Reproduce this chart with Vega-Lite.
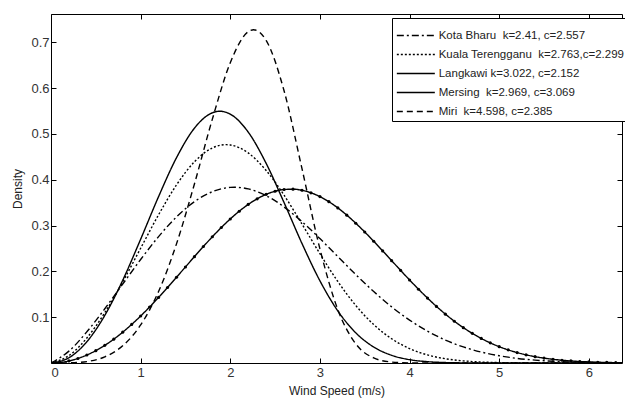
{
  "$schema": "https://vega.github.io/schema/vega-lite/v6.json",
  "width": 571,
  "height": 349,
  "autosize": {"type": "none"},
  "padding": {"left": 51, "top": 14, "right": 3, "bottom": 36},
  "background": "white",
  "config": {
    "view": {"stroke": "#000", "strokeWidth": 1},
    "font": "Liberation Sans",
    "axis": {
      "domain": false,
      "grid": false,
      "tickColor": "#000",
      "tickSize": -5,
      "labelFont": "Liberation Sans",
      "labelFontSize": 13,
      "labelColor": "#333",
      "titleFont": "Liberation Sans",
      "titleFontSize": 12,
      "titleFontWeight": "normal",
      "titleColor": "#222"
    },
    "legend": {
      "orient": "none",
      "legendX": 341,
      "legendY": 4,
      "padding": 4,
      "strokeColor": "#000",
      "fillColor": "#fff",
      "labelFont": "Liberation Sans",
      "labelFontSize": 11.5,
      "labelColor": "#222",
      "labelLimit": 300,
      "symbolType": "M-1,0H2",
      "symbolSize": 642,
      "symbolStrokeColor": "#000",
      "labelOffset": 15.7,
      "rowPadding": 0
    }
  },
  "data": {
    "values": [
      {"s": "Kota Bharu\u00a0 k=2.41, c=2.557", "x": 0, "y": 0},
      {"s": "Kota Bharu\u00a0 k=2.41, c=2.557", "x": 0.2, "y": 0.0259},
      {"s": "Kota Bharu\u00a0 k=2.41, c=2.557", "x": 0.4, "y": 0.0681},
      {"s": "Kota Bharu\u00a0 k=2.41, c=2.557", "x": 0.6, "y": 0.1184},
      {"s": "Kota Bharu\u00a0 k=2.41, c=2.557", "x": 0.8, "y": 0.1723},
      {"s": "Kota Bharu\u00a0 k=2.41, c=2.557", "x": 1.0, "y": 0.2260},
      {"s": "Kota Bharu\u00a0 k=2.41, c=2.557", "x": 1.2, "y": 0.2760},
      {"s": "Kota Bharu\u00a0 k=2.41, c=2.557", "x": 1.4, "y": 0.3189},
      {"s": "Kota Bharu\u00a0 k=2.41, c=2.557", "x": 1.6, "y": 0.3523},
      {"s": "Kota Bharu\u00a0 k=2.41, c=2.557", "x": 1.8, "y": 0.3741},
      {"s": "Kota Bharu\u00a0 k=2.41, c=2.557", "x": 2.0, "y": 0.3834},
      {"s": "Kota Bharu\u00a0 k=2.41, c=2.557", "x": 2.047, "y": 0.3837},
      {"s": "Kota Bharu\u00a0 k=2.41, c=2.557", "x": 2.2, "y": 0.3801},
      {"s": "Kota Bharu\u00a0 k=2.41, c=2.557", "x": 2.4, "y": 0.3654},
      {"s": "Kota Bharu\u00a0 k=2.41, c=2.557", "x": 2.6, "y": 0.3407},
      {"s": "Kota Bharu\u00a0 k=2.41, c=2.557", "x": 2.8, "y": 0.3086},
      {"s": "Kota Bharu\u00a0 k=2.41, c=2.557", "x": 3.0, "y": 0.2716},
      {"s": "Kota Bharu\u00a0 k=2.41, c=2.557", "x": 3.2, "y": 0.2323},
      {"s": "Kota Bharu\u00a0 k=2.41, c=2.557", "x": 3.4, "y": 0.1931},
      {"s": "Kota Bharu\u00a0 k=2.41, c=2.557", "x": 3.6, "y": 0.1561},
      {"s": "Kota Bharu\u00a0 k=2.41, c=2.557", "x": 3.8, "y": 0.1226},
      {"s": "Kota Bharu\u00a0 k=2.41, c=2.557", "x": 4.0, "y": 0.0937},
      {"s": "Kota Bharu\u00a0 k=2.41, c=2.557", "x": 4.2, "y": 0.0695},
      {"s": "Kota Bharu\u00a0 k=2.41, c=2.557", "x": 4.4, "y": 0.0501},
      {"s": "Kota Bharu\u00a0 k=2.41, c=2.557", "x": 4.6, "y": 0.0351},
      {"s": "Kota Bharu\u00a0 k=2.41, c=2.557", "x": 4.8, "y": 0.0239},
      {"s": "Kota Bharu\u00a0 k=2.41, c=2.557", "x": 5.0, "y": 0.0158},
      {"s": "Kota Bharu\u00a0 k=2.41, c=2.557", "x": 5.2, "y": 0.0101},
      {"s": "Kota Bharu\u00a0 k=2.41, c=2.557", "x": 5.4, "y": 0.0063},
      {"s": "Kota Bharu\u00a0 k=2.41, c=2.557", "x": 5.6, "y": 0.0038},
      {"s": "Kota Bharu\u00a0 k=2.41, c=2.557", "x": 5.8, "y": 0.0022},
      {"s": "Kota Bharu\u00a0 k=2.41, c=2.557", "x": 6.0, "y": 0.0013},
      {"s": "Kota Bharu\u00a0 k=2.41, c=2.557", "x": 6.2, "y": 0.0007},
      {"s": "Kota Bharu\u00a0 k=2.41, c=2.557", "x": 6.4, "y": 0.0004},

      {"s": "Kuala Terengganu\u00a0 k=2.763,c=2.299", "x": 0, "y": 0},
      {"s": "Kuala Terengganu\u00a0 k=2.763,c=2.299", "x": 0.2, "y": 0.0162},
      {"s": "Kuala Terengganu\u00a0 k=2.763,c=2.299", "x": 0.4, "y": 0.0546},
      {"s": "Kuala Terengganu\u00a0 k=2.763,c=2.299", "x": 0.6, "y": 0.1098},
      {"s": "Kuala Terengganu\u00a0 k=2.763,c=2.299", "x": 0.8, "y": 0.1771},
      {"s": "Kuala Terengganu\u00a0 k=2.763,c=2.299", "x": 1.0, "y": 0.2506},
      {"s": "Kuala Terengganu\u00a0 k=2.763,c=2.299", "x": 1.2, "y": 0.3236},
      {"s": "Kuala Terengganu\u00a0 k=2.763,c=2.299", "x": 1.4, "y": 0.3888},
      {"s": "Kuala Terengganu\u00a0 k=2.763,c=2.299", "x": 1.6, "y": 0.4393},
      {"s": "Kuala Terengganu\u00a0 k=2.763,c=2.299", "x": 1.8, "y": 0.4695},
      {"s": "Kuala Terengganu\u00a0 k=2.763,c=2.299", "x": 1.954, "y": 0.4767},
      {"s": "Kuala Terengganu\u00a0 k=2.763,c=2.299", "x": 2.0, "y": 0.4760},
      {"s": "Kuala Terengganu\u00a0 k=2.763,c=2.299", "x": 2.2, "y": 0.4587},
      {"s": "Kuala Terengganu\u00a0 k=2.763,c=2.299", "x": 2.4, "y": 0.4204},
      {"s": "Kuala Terengganu\u00a0 k=2.763,c=2.299", "x": 2.6, "y": 0.3664},
      {"s": "Kuala Terengganu\u00a0 k=2.763,c=2.299", "x": 2.8, "y": 0.3034},
      {"s": "Kuala Terengganu\u00a0 k=2.763,c=2.299", "x": 3.0, "y": 0.2386},
      {"s": "Kuala Terengganu\u00a0 k=2.763,c=2.299", "x": 3.2, "y": 0.1779},
      {"s": "Kuala Terengganu\u00a0 k=2.763,c=2.299", "x": 3.4, "y": 0.1256},
      {"s": "Kuala Terengganu\u00a0 k=2.763,c=2.299", "x": 3.6, "y": 0.0839},
      {"s": "Kuala Terengganu\u00a0 k=2.763,c=2.299", "x": 3.8, "y": 0.0529},
      {"s": "Kuala Terengganu\u00a0 k=2.763,c=2.299", "x": 4.0, "y": 0.0315},
      {"s": "Kuala Terengganu\u00a0 k=2.763,c=2.299", "x": 4.2, "y": 0.0176},
      {"s": "Kuala Terengganu\u00a0 k=2.763,c=2.299", "x": 4.4, "y": 0.0093},
      {"s": "Kuala Terengganu\u00a0 k=2.763,c=2.299", "x": 4.6, "y": 0.0046},
      {"s": "Kuala Terengganu\u00a0 k=2.763,c=2.299", "x": 4.8, "y": 0.0021},
      {"s": "Kuala Terengganu\u00a0 k=2.763,c=2.299", "x": 5.0, "y": 0.0009},
      {"s": "Kuala Terengganu\u00a0 k=2.763,c=2.299", "x": 5.2, "y": 0.0004},
      {"s": "Kuala Terengganu\u00a0 k=2.763,c=2.299", "x": 5.4, "y": 0.0001},
      {"s": "Kuala Terengganu\u00a0 k=2.763,c=2.299", "x": 5.6, "y": 0},
      {"s": "Kuala Terengganu\u00a0 k=2.763,c=2.299", "x": 6.4, "y": 0},

      {"s": "Langkawi k=3.022, c=2.152", "x": 0, "y": 0},
      {"s": "Langkawi k=3.022, c=2.152", "x": 0.2, "y": 0.0115},
      {"s": "Langkawi k=3.022, c=2.152", "x": 0.4, "y": 0.0465},
      {"s": "Langkawi k=3.022, c=2.152", "x": 0.6, "y": 0.1039},
      {"s": "Langkawi k=3.022, c=2.152", "x": 0.8, "y": 0.1806},
      {"s": "Langkawi k=3.022, c=2.152", "x": 1.0, "y": 0.2702},
      {"s": "Langkawi k=3.022, c=2.152", "x": 1.2, "y": 0.3633},
      {"s": "Langkawi k=3.022, c=2.152", "x": 1.4, "y": 0.4482},
      {"s": "Langkawi k=3.022, c=2.152", "x": 1.6, "y": 0.5127},
      {"s": "Langkawi k=3.022, c=2.152", "x": 1.8, "y": 0.5463},
      {"s": "Langkawi k=3.022, c=2.152", "x": 1.884, "y": 0.5497},
      {"s": "Langkawi k=3.022, c=2.152", "x": 2.0, "y": 0.5433},
      {"s": "Langkawi k=3.022, c=2.152", "x": 2.2, "y": 0.5042},
      {"s": "Langkawi k=3.022, c=2.152", "x": 2.4, "y": 0.4359},
      {"s": "Langkawi k=3.022, c=2.152", "x": 2.6, "y": 0.3503},
      {"s": "Langkawi k=3.022, c=2.152", "x": 2.8, "y": 0.2609},
      {"s": "Langkawi k=3.022, c=2.152", "x": 3.0, "y": 0.1795},
      {"s": "Langkawi k=3.022, c=2.152", "x": 3.2, "y": 0.1136},
      {"s": "Langkawi k=3.022, c=2.152", "x": 3.4, "y": 0.0659},
      {"s": "Langkawi k=3.022, c=2.152", "x": 3.6, "y": 0.0349},
      {"s": "Langkawi k=3.022, c=2.152", "x": 3.8, "y": 0.0168},
      {"s": "Langkawi k=3.022, c=2.152", "x": 4.0, "y": 0.0073},
      {"s": "Langkawi k=3.022, c=2.152", "x": 4.2, "y": 0.0029},
      {"s": "Langkawi k=3.022, c=2.152", "x": 4.4, "y": 0.0010},
      {"s": "Langkawi k=3.022, c=2.152", "x": 4.6, "y": 0.0003},
      {"s": "Langkawi k=3.022, c=2.152", "x": 4.8, "y": 0.0001},
      {"s": "Langkawi k=3.022, c=2.152", "x": 5.0, "y": 0},
      {"s": "Langkawi k=3.022, c=2.152", "x": 6.4, "y": 0},

      {"s": "Mersing\u00a0 k=2.969, c=3.069", "x": 0, "y": 0},
      {"s": "Mersing\u00a0 k=2.969, c=3.069", "x": 0.1, "y": 0.0011},
      {"s": "Mersing\u00a0 k=2.969, c=3.069", "x": 0.2, "y": 0.0045},
      {"s": "Mersing\u00a0 k=2.969, c=3.069", "x": 0.3, "y": 0.0099},
      {"s": "Mersing\u00a0 k=2.969, c=3.069", "x": 0.4, "y": 0.0175},
      {"s": "Mersing\u00a0 k=2.969, c=3.069", "x": 0.5, "y": 0.0270},
      {"s": "Mersing\u00a0 k=2.969, c=3.069", "x": 0.6, "y": 0.0386},
      {"s": "Mersing\u00a0 k=2.969, c=3.069", "x": 0.7, "y": 0.0520},
      {"s": "Mersing\u00a0 k=2.969, c=3.069", "x": 0.8, "y": 0.0673},
      {"s": "Mersing\u00a0 k=2.969, c=3.069", "x": 0.9, "y": 0.0842},
      {"s": "Mersing\u00a0 k=2.969, c=3.069", "x": 1.0, "y": 0.1026},
      {"s": "Mersing\u00a0 k=2.969, c=3.069", "x": 1.1, "y": 0.1223},
      {"s": "Mersing\u00a0 k=2.969, c=3.069", "x": 1.2, "y": 0.1432},
      {"s": "Mersing\u00a0 k=2.969, c=3.069", "x": 1.3, "y": 0.1649},
      {"s": "Mersing\u00a0 k=2.969, c=3.069", "x": 1.4, "y": 0.1872},
      {"s": "Mersing\u00a0 k=2.969, c=3.069", "x": 1.5, "y": 0.2097},
      {"s": "Mersing\u00a0 k=2.969, c=3.069", "x": 1.6, "y": 0.2322},
      {"s": "Mersing\u00a0 k=2.969, c=3.069", "x": 1.7, "y": 0.2543},
      {"s": "Mersing\u00a0 k=2.969, c=3.069", "x": 1.8, "y": 0.2756},
      {"s": "Mersing\u00a0 k=2.969, c=3.069", "x": 1.9, "y": 0.2958},
      {"s": "Mersing\u00a0 k=2.969, c=3.069", "x": 2.0, "y": 0.3145},
      {"s": "Mersing\u00a0 k=2.969, c=3.069", "x": 2.1, "y": 0.3314},
      {"s": "Mersing\u00a0 k=2.969, c=3.069", "x": 2.2, "y": 0.3462},
      {"s": "Mersing\u00a0 k=2.969, c=3.069", "x": 2.3, "y": 0.3585},
      {"s": "Mersing\u00a0 k=2.969, c=3.069", "x": 2.4, "y": 0.3682},
      {"s": "Mersing\u00a0 k=2.969, c=3.069", "x": 2.5, "y": 0.3750},
      {"s": "Mersing\u00a0 k=2.969, c=3.069", "x": 2.6, "y": 0.3788},
      {"s": "Mersing\u00a0 k=2.969, c=3.069", "x": 2.7, "y": 0.3795},
      {"s": "Mersing\u00a0 k=2.969, c=3.069", "x": 2.8, "y": 0.3771},
      {"s": "Mersing\u00a0 k=2.969, c=3.069", "x": 2.9, "y": 0.3716},
      {"s": "Mersing\u00a0 k=2.969, c=3.069", "x": 3.0, "y": 0.3633},
      {"s": "Mersing\u00a0 k=2.969, c=3.069", "x": 3.1, "y": 0.3522},
      {"s": "Mersing\u00a0 k=2.969, c=3.069", "x": 3.2, "y": 0.3386},
      {"s": "Mersing\u00a0 k=2.969, c=3.069", "x": 3.3, "y": 0.3228},
      {"s": "Mersing\u00a0 k=2.969, c=3.069", "x": 3.4, "y": 0.3052},
      {"s": "Mersing\u00a0 k=2.969, c=3.069", "x": 3.5, "y": 0.2861},
      {"s": "Mersing\u00a0 k=2.969, c=3.069", "x": 3.6, "y": 0.2658},
      {"s": "Mersing\u00a0 k=2.969, c=3.069", "x": 3.7, "y": 0.2448},
      {"s": "Mersing\u00a0 k=2.969, c=3.069", "x": 3.8, "y": 0.2235},
      {"s": "Mersing\u00a0 k=2.969, c=3.069", "x": 3.9, "y": 0.2023},
      {"s": "Mersing\u00a0 k=2.969, c=3.069", "x": 4.0, "y": 0.1813},
      {"s": "Mersing\u00a0 k=2.969, c=3.069", "x": 4.1, "y": 0.1611},
      {"s": "Mersing\u00a0 k=2.969, c=3.069", "x": 4.2, "y": 0.1418},
      {"s": "Mersing\u00a0 k=2.969, c=3.069", "x": 4.3, "y": 0.1236},
      {"s": "Mersing\u00a0 k=2.969, c=3.069", "x": 4.4, "y": 0.1067},
      {"s": "Mersing\u00a0 k=2.969, c=3.069", "x": 4.5, "y": 0.0912},
      {"s": "Mersing\u00a0 k=2.969, c=3.069", "x": 4.6, "y": 0.0772},
      {"s": "Mersing\u00a0 k=2.969, c=3.069", "x": 4.7, "y": 0.0647},
      {"s": "Mersing\u00a0 k=2.969, c=3.069", "x": 4.8, "y": 0.0536},
      {"s": "Mersing\u00a0 k=2.969, c=3.069", "x": 4.9, "y": 0.0440},
      {"s": "Mersing\u00a0 k=2.969, c=3.069", "x": 5.0, "y": 0.0357},
      {"s": "Mersing\u00a0 k=2.969, c=3.069", "x": 5.1, "y": 0.0287},
      {"s": "Mersing\u00a0 k=2.969, c=3.069", "x": 5.2, "y": 0.0228},
      {"s": "Mersing\u00a0 k=2.969, c=3.069", "x": 5.3, "y": 0.0179},
      {"s": "Mersing\u00a0 k=2.969, c=3.069", "x": 5.4, "y": 0.0139},
      {"s": "Mersing\u00a0 k=2.969, c=3.069", "x": 5.5, "y": 0.0107},
      {"s": "Mersing\u00a0 k=2.969, c=3.069", "x": 5.6, "y": 0.0081},
      {"s": "Mersing\u00a0 k=2.969, c=3.069", "x": 5.7, "y": 0.0061},
      {"s": "Mersing\u00a0 k=2.969, c=3.069", "x": 5.8, "y": 0.0045},
      {"s": "Mersing\u00a0 k=2.969, c=3.069", "x": 5.9, "y": 0.0033},
      {"s": "Mersing\u00a0 k=2.969, c=3.069", "x": 6.0, "y": 0.0024},
      {"s": "Mersing\u00a0 k=2.969, c=3.069", "x": 6.1, "y": 0.0017},
      {"s": "Mersing\u00a0 k=2.969, c=3.069", "x": 6.2, "y": 0.0012},
      {"s": "Mersing\u00a0 k=2.969, c=3.069", "x": 6.3, "y": 0.0008},
      {"s": "Mersing\u00a0 k=2.969, c=3.069", "x": 6.4, "y": 0.0006},

      {"s": "Miri\u00a0 k=4.598, c=2.385", "x": 0, "y": 0},
      {"s": "Miri\u00a0 k=4.598, c=2.385", "x": 0.2, "y": 0.0003},
      {"s": "Miri\u00a0 k=4.598, c=2.385", "x": 0.4, "y": 0.0031},
      {"s": "Miri\u00a0 k=4.598, c=2.385", "x": 0.6, "y": 0.0134},
      {"s": "Miri\u00a0 k=4.598, c=2.385", "x": 0.8, "y": 0.0376},
      {"s": "Miri\u00a0 k=4.598, c=2.385", "x": 1.0, "y": 0.0830},
      {"s": "Miri\u00a0 k=4.598, c=2.385", "x": 1.2, "y": 0.1561},
      {"s": "Miri\u00a0 k=4.598, c=2.385", "x": 1.4, "y": 0.2601},
      {"s": "Miri\u00a0 k=4.598, c=2.385", "x": 1.6, "y": 0.3909},
      {"s": "Miri\u00a0 k=4.598, c=2.385", "x": 1.8, "y": 0.5324},
      {"s": "Miri\u00a0 k=4.598, c=2.385", "x": 2.0, "y": 0.6557},
      {"s": "Miri\u00a0 k=4.598, c=2.385", "x": 2.2, "y": 0.7233},
      {"s": "Miri\u00a0 k=4.598, c=2.385", "x": 2.261, "y": 0.7276},
      {"s": "Miri\u00a0 k=4.598, c=2.385", "x": 2.4, "y": 0.7045},
      {"s": "Miri\u00a0 k=4.598, c=2.385", "x": 2.6, "y": 0.5944},
      {"s": "Miri\u00a0 k=4.598, c=2.385", "x": 2.8, "y": 0.4243},
      {"s": "Miri\u00a0 k=4.598, c=2.385", "x": 3.0, "y": 0.2492},
      {"s": "Miri\u00a0 k=4.598, c=2.385", "x": 3.2, "y": 0.1165},
      {"s": "Miri\u00a0 k=4.598, c=2.385", "x": 3.4, "y": 0.0419},
      {"s": "Miri\u00a0 k=4.598, c=2.385", "x": 3.6, "y": 0.0111},
      {"s": "Miri\u00a0 k=4.598, c=2.385", "x": 3.8, "y": 0.0021},
      {"s": "Miri\u00a0 k=4.598, c=2.385", "x": 4.0, "y": 0.0003},
      {"s": "Miri\u00a0 k=4.598, c=2.385", "x": 4.2, "y": 0},
      {"s": "Miri\u00a0 k=4.598, c=2.385", "x": 6.4, "y": 0}
    ]
  },
  "resolve": {"axis": {"x": "independent", "y": "independent"}},
  "layer": [
    {
      "mark": {"type": "line", "interpolate": "monotone", "clip": true, "color": "#000"},
      "encoding": {
        "x": {
          "field": "x", "type": "quantitative",
          "scale": {"domain": [0, 6.37], "nice": false, "zero": false},
          "axis": {"title": "Wind Speed (m/s)", "values": [0, 1, 2, 3, 4, 5, 6], "format": "d", "labelPadding": 8, "titleY": 22, "titleBaseline": "top"}
        },
        "y": {
          "field": "y", "type": "quantitative",
          "scale": {"domain": [0, 0.762], "nice": false},
          "axis": {"title": "Density", "values": [0.1, 0.2, 0.3, 0.4, 0.5, 0.6, 0.7], "format": ".1f", "labelPadding": 7, "titlePadding": 6}
        },
        "strokeDash": {
          "field": "s", "type": "nominal",
          "scale": {
            "domain": ["Kota Bharu\u00a0 k=2.41, c=2.557", "Kuala Terengganu\u00a0 k=2.763,c=2.299", "Langkawi k=3.022, c=2.152", "Mersing\u00a0 k=2.969, c=3.069", "Miri\u00a0 k=4.598, c=2.385"],
            "range": [[7, 3, 2, 3], [2, 2], [1, 0], [1, 0], [6, 4]]
          },
          "legend": {"title": null}
        },
        "strokeWidth": {
          "field": "s", "type": "nominal",
          "scale": {
            "domain": ["Kota Bharu\u00a0 k=2.41, c=2.557", "Kuala Terengganu\u00a0 k=2.763,c=2.299", "Langkawi k=3.022, c=2.152", "Mersing\u00a0 k=2.969, c=3.069", "Miri\u00a0 k=4.598, c=2.385"],
            "range": [1.4, 1.4, 1.3, 2, 1.5]
          },
          "legend": {"title": null}
        }
      }
    },
    {
      "transform": [{"filter": "indexof(datum.s, 'Mersing') == 0"}],
      "mark": {"type": "point", "filled": true, "size": 10, "color": "#000", "opacity": 1, "clip": true},
      "encoding": {
        "x": {"field": "x", "type": "quantitative", "axis": {"orient": "top", "labels": false, "title": null, "values": [0, 1, 2, 3, 4, 5, 6]}},
        "y": {"field": "y", "type": "quantitative", "axis": {"orient": "right", "labels": false, "title": null, "values": [0.1, 0.2, 0.3, 0.4, 0.5, 0.6, 0.7]}}
      }
    }
  ]
}
